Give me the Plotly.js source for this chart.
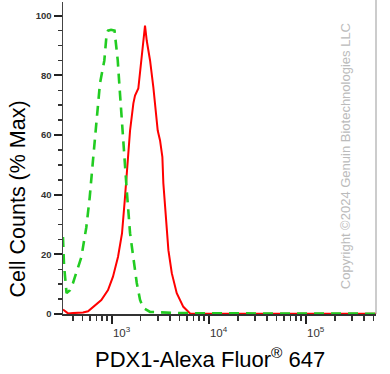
<!DOCTYPE html>
<html>
<head>
<meta charset="utf-8">
<script src="https://cdn.plot.ly/plotly-3.0.1.min.js"></script>
<style>html,body{margin:0;padding:0;background:#fff;}#chart{width:390px;height:374px;}</style>
</head>
<body>
<div id="chart"></div>
<script>
// Control (isotype) – green dashed
var controlX = [316, 324, 344, 373, 401, 441, 489, 550, 596, 644, 703, 760, 843, 891, 920, 989,
  1074, 1159, 1202, 1253, 1303, 1355, 1435, 1552, 1679, 1820, 1968, 2128, 2495, 5000, 20000, 100000, 530000];
var controlY = [25.8, 16.4, 7.0, 8.0, 10.4, 14.7, 19.1, 29.1, 39.1, 51.5, 64.9, 77.3, 85.0, 94.0, 95.0, 95.3,
  95.0, 85.0, 77.3, 68.2, 59.2, 52.5, 41.5, 27.1, 18.1, 10.4, 4.7, 2.0, 0.7, 0.3, 0.2, 0.2, 0.1];
// PDX1 sample – red solid
var sampleX = [316, 332, 356, 401, 452, 508, 573, 615, 671, 785, 920, 1035, 1167, 1282, 1368, 1445,
  1552, 1679, 1746, 1888, 2046, 2213, 2307, 2495, 2698, 2858, 2992, 3162, 3342, 3420, 3622, 3855,
  4178, 4699, 5495, 6442, 10000, 50000, 200000, 530000];
var sampleY = [1.5, 1.0, 0.2, 0.3, 0.4, 0.5, 0.9, 1.8, 3.0, 4.7, 8.0, 12.5, 19.2, 27.0, 38.0, 48.0,
  61.5, 70.6, 73.2, 75.6, 86.0, 96.7, 91.6, 85.0, 76.0, 68.2, 61.5, 58.2, 52.6, 43.8, 32.5, 21.4,
  13.7, 7.0, 2.4, 0.2, 0.1, 0.1, 0.1, 0.1];

var xMajorVals = [1000, 10000, 100000];
var xMajorText = ['10<sup>3</sup>', '10<sup>4</sup>', '10<sup>5</sup>'];
var xMinorVals = [400, 500, 600, 700, 800, 900, 2000, 3000, 4000, 5000, 6000, 7000, 8000, 9000,
  20000, 30000, 40000, 50000, 60000, 70000, 80000, 90000, 200000, 300000, 400000, 500000];
var yTickVals = [0, 20, 40, 60, 80, 100];

var xTitle = 'PDX1-Alexa Fluor<sup>®</sup> 647';
var yTitle = 'Cell Counts (% Max)';
var copyright = 'Copyright ©2024 Genuin Biotechnologies LLC';

var font = '"Liberation Sans", Arial, sans-serif';

var traces = [
  {x: sampleX, y: sampleY, type: 'scatter', mode: 'lines', name: 'PDX1',
   line: {color: '#ff0000', width: 2}},
  {x: controlX, y: controlY, type: 'scatter', mode: 'lines', name: 'Control',
   line: {color: '#22cc22', width: 2.6, dash: '10px,7px'}}
];

var layout = {
  width: 390, height: 374,
  margin: {l: 63, r: 14, t: 2, b: 60},
  paper_bgcolor: '#fff', plot_bgcolor: '#fff',
  showlegend: false,
  font: {family: font, color: '#000'},
  xaxis: {
    type: 'log', range: [2.5, 5.725],
    showgrid: false, zeroline: false,
    showline: true, linecolor: '#333', linewidth: 1.5,
    tickmode: 'array', tickvals: xMajorVals, ticktext: xMajorText,
    ticks: 'outside', ticklen: 8, tickwidth: 2, tickcolor: '#222',
    ticklabelshift: 10,
    tickfont: {family: font, size: 11.5, color: '#333'},
    minor: {tickmode: 'array', tickvals: xMinorVals, ticks: 'outside', ticklen: 5, tickwidth: 1.5, tickcolor: '#333', showgrid: false}
  },
  yaxis: {
    range: [0, 104.6],
    showgrid: false, zeroline: false,
    showline: true, linecolor: '#444', linewidth: 1.5,
    tickmode: 'array', tickvals: yTickVals,
    ticks: 'outside', ticklen: 8, tickwidth: 2, tickcolor: '#222',
    tickfont: {family: font, size: 9.5, color: '#333', weight: 'bold'},
    minor: {dtick: 5, ticks: 'outside', ticklen: 4, tickwidth: 1.5, tickcolor: '#333', showgrid: false}
  },
  shapes: [
    {type: 'line', xref: 'paper', yref: 'paper', x0: 1, x1: 1, y0: 0, y1: 1.01,
     line: {color: '#999', width: 1}}
  ],
  annotations: [
    {text: yTitle, xref: 'paper', yref: 'paper', x: -0.144, y: 0.37, textangle: -90,
     showarrow: false, xanchor: 'center', yanchor: 'middle',
     font: {family: font, size: 21.5, color: '#000'}},
    {text: xTitle, xref: 'paper', yref: 'paper', x: 0.47, y: -0.141,
     showarrow: false, xanchor: 'center', yanchor: 'middle',
     font: {family: font, size: 22, color: '#000'}},
    {text: copyright, xref: 'paper', yref: 'paper', x: 0.901, y: 0.506, textangle: -90,
     showarrow: false, xanchor: 'center', yanchor: 'middle',
     font: {family: font, size: 13, color: '#bbbbbb'}}
  ]
};

Plotly.newPlot('chart', traces, layout, {displayModeBar: false, staticPlot: true});
</script>
</body>
</html>
